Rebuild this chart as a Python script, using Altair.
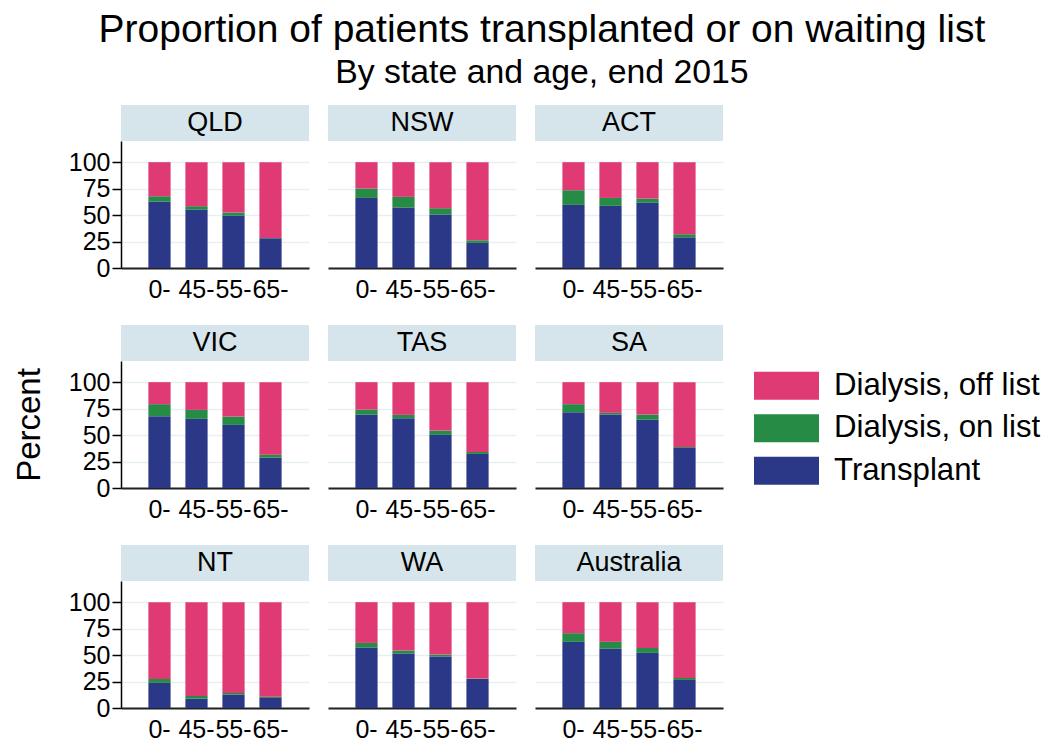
import altair as alt
import pandas as pd

states = ["QLD", "NSW", "ACT", "VIC", "TAS", "SA", "NT", "WA", "Australia"]
ages = ["0-", "45-", "55-", "65-"]
series = ["Dialysis, off list", "Dialysis, on list", "Transplant"]
colors = ["#e03a74", "#268b45", "#2b3887"]

# Percent transplanted, per state and age group
transplant = {
    "QLD": [62.8, 55.2, 49.5, 28.1],
    "NSW": [66.2, 57.1, 50.5, 23.7],
    "ACT": [59.6, 58.7, 61.8, 29.0],
    "VIC": [67.8, 65.3, 59.6, 28.7],
    "TAS": [69.4, 65.9, 50.2, 32.2],
    "SA": [71.6, 69.4, 64.7, 37.9],
    "NT": [23.7, 8.8, 12.6, 9.5],
    "WA": [57.1, 51.4, 48.6, 27.4],
    "Australia": [62.5, 56.2, 52.1, 26.5],
}
# Percent on dialysis and on the waiting list
on_list = {
    "QLD": [5.0, 3.2, 2.9, 0.3],
    "NSW": [8.9, 10.1, 6.0, 2.5],
    "ACT": [13.9, 7.5, 3.8, 2.9],
    "VIC": [11.4, 8.5, 7.9, 2.8],
    "TAS": [4.7, 3.2, 4.1, 1.9],
    "SA": [7.6, 1.6, 4.7, 0.9],
    "NT": [3.7, 2.6, 1.6, 1.2],
    "WA": [4.4, 2.9, 1.9, 0.4],
    "Australia": [8.2, 6.3, 4.7, 1.9],
}
# Percent on dialysis and off the waiting list
off_list = {
    "QLD": [32.2, 41.6, 47.6, 71.6],
    "NSW": [24.9, 32.8, 43.5, 73.8],
    "ACT": [26.5, 33.8, 34.4, 68.1],
    "VIC": [20.8, 26.2, 32.5, 68.5],
    "TAS": [25.9, 30.9, 45.7, 65.9],
    "SA": [20.8, 29.0, 30.6, 61.2],
    "NT": [72.6, 88.6, 85.8, 89.3],
    "WA": [38.5, 45.7, 49.5, 72.2],
    "Australia": [29.3, 37.5, 43.2, 71.6],
}

rows = []
for s in states:
    for i, a in enumerate(ages):
        rows.append({"state": s, "age": a, "status": "Transplant", "ord": 0, "pct": transplant[s][i]})
        rows.append({"state": s, "age": a, "status": "Dialysis, on list", "ord": 1, "pct": on_list[s][i]})
        rows.append({"state": s, "age": a, "status": "Dialysis, off list", "ord": 2, "pct": off_list[s][i]})
df = pd.DataFrame(rows)

FONT = "Liberation Sans"
PW, PH, SH = 188, 127, 36
STRIP = "#d6e5eb"
GRID = "#e6eff2"

color_enc = alt.Color(
    "status:N",
    scale=alt.Scale(domain=series, range=colors),
    legend=alt.Legend(
        title=None, orient="none", legendX=639.5, legendY=218.7,
        symbolType="M-1.25,-0.54L1.25,-0.54L1.25,0.54L-1.25,0.54Z", symbolSize=2704,
        symbolStrokeWidth=0, symbolOpacity=1,
        labelFontSize=31.2, labelFont=FONT, labelColor="#000000", labelLimit=400,
        labelOffset=21.5, rowPadding=0.5, padding=0,
    ),
)

panels = []
for idx, s in enumerate(states):
    col, row = idx % 3, idx // 3
    d = df[df["state"] == s]
    first = col == 0
    yaxis_kwargs = dict(
        values=[0, 25, 50, 75, 100], grid=True, gridColor=GRID, gridWidth=1.5,
        domain=first, ticks=first, labels=first,
        domainColor="#000000", domainWidth=1.5, tickColor="#000000", tickWidth=1.5, tickSize=9,
        labelFontSize=25, labelFont=FONT, labelColor="#000000", labelPadding=2,
        titleFontSize=33, titleFont=FONT, titleFontWeight="normal", titleColor="#000000",
        titlePadding=22,
    )
    ytitle = "Percent" if (first and row == 1) else None
    bars = alt.Chart(d).mark_bar().encode(
        x=alt.X(
            "age:N", sort=ages,
            scale=alt.Scale(paddingInner=0.4, paddingOuter=0.74),
            axis=alt.Axis(title=None, labelAngle=0, ticks=False, grid=False, domainColor="#222222",
                          domainWidth=2, labelFontSize=25, labelFont=FONT,
                          labelColor="#000000", labelPadding=9),
        ),
        y=alt.Y("pct:Q", stack="zero", title=ytitle,
                scale=alt.Scale(domain=[0, 120], nice=False),
                axis=alt.Axis(**yaxis_kwargs)),
        color=color_enc,
        order=alt.Order("ord:Q"),
    )
    sdf = pd.DataFrame({"state": [s]})
    strip = alt.Chart(sdf).mark_rect(color=STRIP).encode(
        x=alt.value(0), x2=alt.value(PW), y=alt.value(-SH), y2=alt.value(0)
    )
    label = alt.Chart(sdf).mark_text(fontSize=27, font=FONT, color="#000000", baseline="middle").encode(
        x=alt.value(PW / 2), y=alt.value(-SH / 2), text="state:N"
    )
    panels.append(alt.layer(strip, label, bars).properties(width=PW, height=PH))

chart = alt.concat(*panels, columns=3, spacing={"row": 93, "column": 19}).properties(
    bounds="flush",
    background="#ffffff",
    padding={"left": 5, "top": 3, "right": 0, "bottom": 0},
    title=alt.TitleParams(
        text="Proportion of patients transplanted or on waiting list",
        subtitle="By state and age, end 2015",
        fontSize=39, subtitleFontSize=33.8, font=FONT, subtitleFont=FONT,
        fontWeight="normal", color="#000000", subtitleColor="#000000",
        anchor="middle", frame="bounds", subtitlePadding=6, offset=15, dx=15,
    ),
).configure_view(stroke=None)

chart.save("out.html", embed_options={"renderer": "svg", "actions": False})
